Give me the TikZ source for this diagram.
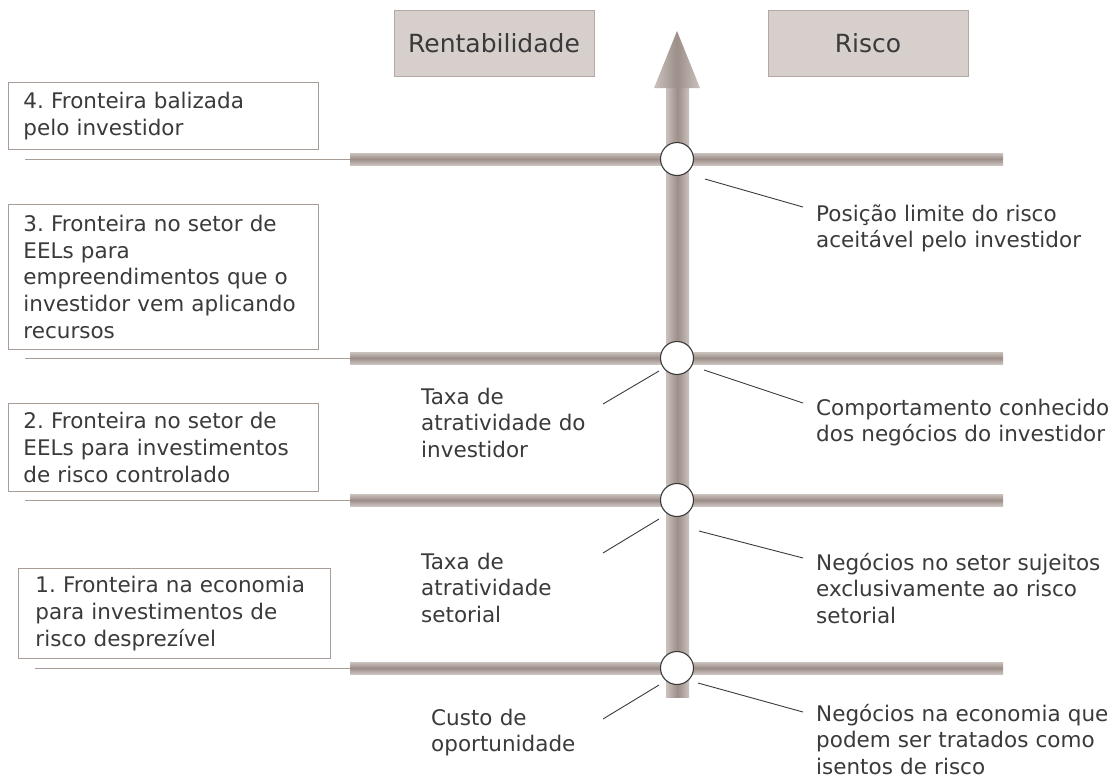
\documentclass[tikz,border=0pt]{standalone}
\usepackage{fontspec}
\setmainfont{DejaVu Sans}
\usepackage{xcolor}
\usetikzlibrary{calc}
\definecolor{barlight}{HTML}{CBC2BE}
\definecolor{bardark}{HTML}{9C8E88}
\definecolor{boxline}{HTML}{A89D97}
\definecolor{headfill}{HTML}{D6CFCC}
\definecolor{headline}{HTML}{B3A8A3}
\definecolor{inkgray}{HTML}{3A3A3A}
\frenchspacing

\begin{document}
\begin{tikzpicture}[x=1pt,y=-1pt,
  every node/.style={font=\fontsize{21.5}{26.7}\selectfont,text=inkgray},
  frontbox/.style={draw=boxline,line width=0.9pt,anchor=north west,align=left,inner xsep=15pt,inner ysep=0pt},
  headbox/.style={draw=headline,fill=headfill,line width=1pt,minimum width=200pt,minimum height=66pt,font=\fontsize{25}{30}\selectfont},
  note/.style={anchor=base west,align=left,inner sep=0pt,text width=310pt},
  callout/.style={draw=inkgray,line width=0.9pt},
  knot/.style={circle,draw=inkgray,fill=white,line width=1.1pt,minimum size=33pt,inner sep=0pt},
  guide/.style={draw=boxline,line width=0.8pt}]
  \useasboundingbox (0,0) rectangle (1119,780);
  % frontier bars and their guide lines
  \foreach \y/\x in {159/25,358/25,500/25,668/35} {
    \draw[guide] (\x,\y) -- (350,\y);
    \shade[top color=barlight,bottom color=barlight,middle color=bardark] (350,\y-6) rectangle (1003,\y+6);
  }
  % rising axis
  \shade[left color=barlight,right color=barlight,middle color=bardark] (666,87) rectangle (689,697);
  \shade[left color=barlight,right color=barlight,middle color=bardark] (654,88) -- (677,31) -- (700,88) -- cycle;
  \node[knot] (k4) at (677,159) {};
  \node[knot] (k3) at (677,358) {};
  \node[knot] (k2) at (677,500) {};
  \node[knot] (k1) at (677,668) {};
  \node[headbox] (rent) at (494,43) {Rentabilidade};
  \node[headbox] (risco) at (868,43) {Risco};
  \node[frontbox,text width=280pt,minimum height=67pt] (front4) at (8,82)
    {4. Fronteira balizada\\pelo investidor};
  \node[frontbox,text width=280pt,minimum height=145pt] (front3) at (8,204)
    {3. Fronteira no setor de\\EELs para\\empreendimentos que o\\investidor vem aplicando\\recursos};
  \node[frontbox,text width=280pt,minimum height=88pt] (front2) at (8,403)
    {2. Fronteira no setor de\\EELs para investimentos\\de risco controlado};
  \node[frontbox,text width=278pt,inner xsep=17pt,minimum height=90pt] (front1) at (18,568)
    {1. Fronteira na economia\\para investimentos de\\risco desprezível};
  % right notes
  \node[note] (limite) at (816,221) {Posição limite do risco\\aceitável pelo investidor};
  \node[note] (conhecido) at (816,415) {Comportamento conhecido\\dos negócios do investidor};
  \node[note] (setorial) at (816,570) {Negócios no setor sujeitos\\exclusivamente ao risco\\setorial};
  \node[note] (isentos) at (816,721) {Negócios na economia que\\podem ser tratados como\\isentos de risco};
  % left notes
  \node[note] (taxainv) at (421,404) {Taxa de\\atratividade do\\investidor};
  \node[note] (taxaset) at (421,569) {Taxa de\\atratividade\\setorial};
  \node[note] (custo) at (431,725) {Custo de\\oportunidade};
  \draw[callout] ($(k4)+(28,20)$) -- ($(limite.base west)+(-13,-14)$);
  \draw[callout] ($(k3)+(27,12)$) -- ($(conhecido.base west)+(-13,-12)$);
  \draw[callout] ($(k2)+(22,31)$) -- ($(setorial.base west)+(-13,-12)$);
  \draw[callout] ($(k1)+(21,15)$) -- ($(isentos.base west)+(-13,-9)$);
  \draw[callout] ($(k3)+(-18,13)$) -- ($(taxainv.base west)+(182,0)$);
  \draw[callout] ($(k2)+(-18,19)$) -- ($(taxaset.base west)+(182,-16)$);
  \draw[callout] ($(k1)+(-18,17)$) -- ($(custo.base west)+(172,-6)$);
\end{tikzpicture}
\end{document}
